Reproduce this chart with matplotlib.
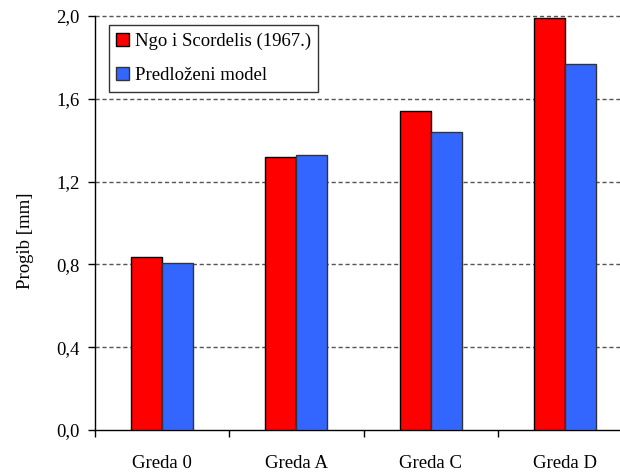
import matplotlib.pyplot as plt
import numpy as np
from matplotlib.ticker import FixedLocator, FuncFormatter

plt.rcParams["font.family"] = ["Liberation Serif", "DejaVu Serif"]
FS = 13.5

# --- Data ------------------------------------------------------------------
categories = ["Greda 0", "Greda A", "Greda C", "Greda D"]
ngo_scordelis = [0.835, 1.320, 1.539, 1.989]
predlozeni = [0.805, 1.330, 1.442, 1.767]
y_ticks = [0.0, 0.4, 0.8, 1.2, 1.6, 2.0]

# --- Figure ----------------------------------------------------------------
fig = plt.figure(figsize=(6.2, 4.75), dpi=100)
ax = fig.add_axes([95 / 620, 45 / 475, 537 / 620, 414 / 475])

x = np.arange(len(categories))
w = 0.23
ax.bar(x - w / 2, ngo_scordelis, w, color="#ff0000", edgecolor="black",
       linewidth=1.0, label="Ngo i Scordelis (1967.)", zorder=3)
ax.bar(x + w / 2, predlozeni, w, color="#3366ff", edgecolor="#333333",
       linewidth=1.0, label="Predloženi model", zorder=3)

ax.set_xlim(-0.5, 3.5)
ax.set_ylim(0, 2.0)

# y axis: comma decimals, outward ticks
ax.yaxis.set_major_locator(FixedLocator(y_ticks))
ax.yaxis.set_major_formatter(FuncFormatter(lambda v, _: f"{v:.1f}".replace(".", ",")))
ax.tick_params(axis="y", direction="out", length=5, width=1, labelsize=FS, pad=6)
ax.set_ylabel("Progib [mm]", fontsize=FS)
ax.yaxis.set_label_coords(-0.1136, 0.457)

# x axis: labels at centres, tick marks at category boundaries
ax.set_xticks(x)
ax.set_xticklabels(categories)
ax.tick_params(axis="x", which="major", length=0, labelsize=FS, pad=18)
ax.set_xticks(np.arange(-0.5, 4.0, 1.0), minor=True)
ax.tick_params(axis="x", which="minor", direction="out", length=5, width=1)

# dashed horizontal grid
for yv in y_ticks[1:]:
    ax.axhline(yv, color="#555555", linestyle=(0, (3, 2)), linewidth=1.0,
               zorder=1, clip_on=False)

for side in ("top", "right"):
    ax.spines[side].set_visible(False)
ax.spines["left"].set_linewidth(1.0)
ax.spines["bottom"].set_linewidth(1.0)

leg = ax.legend(loc="upper left", bbox_to_anchor=(0.026, 0.978), fontsize=FS,
                frameon=True, fancybox=False, shadow=False, edgecolor="black",
                handlelength=0.67, handleheight=0.67, handletextpad=0.3,
                labelspacing=0.92, borderpad=0.4, borderaxespad=0)
leg.get_frame().set_linewidth(1.0)
leg.set_zorder(5)

plt.savefig("out.png", dpi=100)
plt.close()
